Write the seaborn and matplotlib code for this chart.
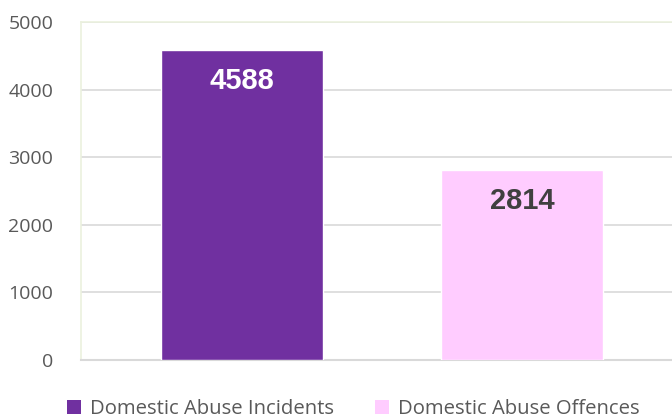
import numpy as np
import pandas as pd
import seaborn as sns
import matplotlib.pyplot as plt
from matplotlib.patches import Patch
from matplotlib import font_manager

# Data
categories = ["Domestic Abuse Incidents", "Domestic Abuse Offences"]
counts = [4588, 2814]
bar_colors = ["#7030A0", "#FFCCFF"]
label_colors = ["white", "#404040"]
y_ticks = [0, 1000, 2000, 3000, 4000, 5000]

df = pd.DataFrame({"Category": categories, "Count": counts})

sns.set_theme(style="white")
plt.rcParams['font.family'] = ['Open Sans', 'DejaVu Sans']

# bold Arial-like font for the value labels
bold_path = None
for f in font_manager.fontManager.ttflist:
    if f.name == "Liberation Sans" and f.weight in (700, "bold") and f.style == "normal":
        bold_path = f.fname
        break
label_font = font_manager.FontProperties(fname=bold_path, size=21) if bold_path \
    else font_manager.FontProperties(family="DejaVu Sans", weight="bold", size=18)

fig = plt.figure(figsize=(6.72, 4.18), dpi=100)
ax = fig.add_axes([81 / 672, 1 - 360 / 418, 1 - 81 / 672, (360 - 22) / 418])

sns.barplot(data=df, x="Category", y="Count", hue="Category",
            palette=dict(zip(categories, bar_colors)), width=0.58,
            saturation=1, legend=False, ax=ax, zorder=3)

ax.set_xlim(-0.575, 1.536)
ax.set_ylim(0, 5000)
ax.set_yticks(y_ticks)
ax.set_yticklabels([str(t) for t in y_ticks], fontsize=14, color="#595959")
ax.tick_params(axis="y", length=0, pad=20)
ax.set_xticks([])
ax.set_xlabel("")
ax.set_ylabel("")
ax.yaxis.grid(True, color="#D9D9D9", linewidth=1.2, zorder=0)

for side in ["left", "top"]:
    ax.spines[side].set_color("#EBF1DE")
    ax.spines[side].set_linewidth(1.2)
ax.spines["right"].set_visible(False)
ax.spines["bottom"].set_color("#D9D9D9")
ax.spines["bottom"].set_linewidth(1.5)

for i, (v, c) in enumerate(zip(counts, label_colors)):
    ax.text(i, v - 460, str(v), ha="center", va="center",
            fontproperties=label_font, color=c, zorder=4)

handles = [Patch(facecolor=c, edgecolor="none") for c in bar_colors]
fig.legend(handles, categories, loc="center", bbox_to_anchor=(0.526, 1 - 409 / 418),
           ncol=2, frameon=False, fontsize=14.6, labelcolor="#595959",
           handlelength=0.7, handleheight=0.7, handletextpad=0.45, columnspacing=2.0)

fig.savefig("out.png", dpi=100)
